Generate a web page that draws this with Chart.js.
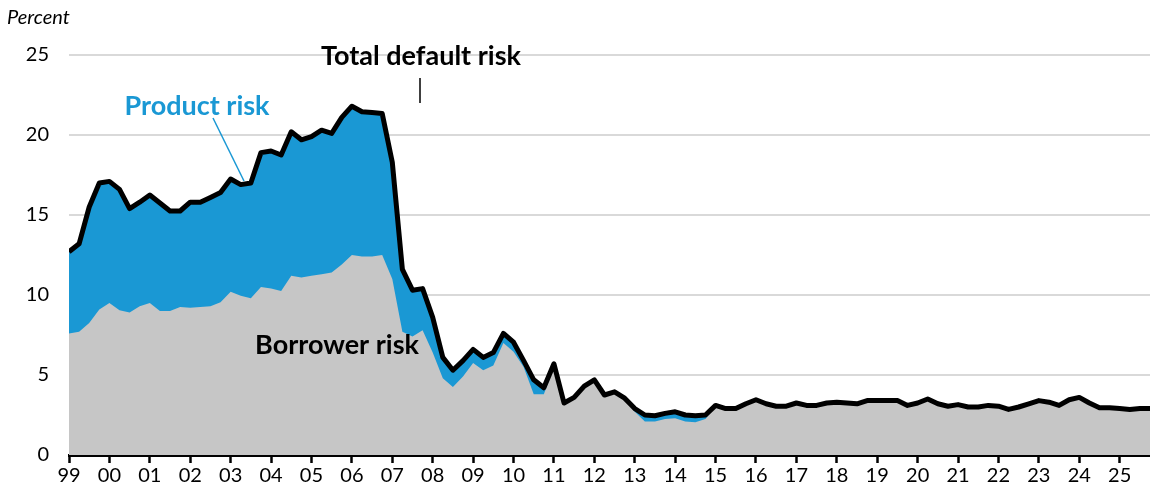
<!DOCTYPE html>
<html>
<head>
<meta charset="utf-8">
<script src="https://cdn.jsdelivr.net/npm/chart.js@4.4.1/dist/chart.umd.min.js"></script>
<style>
    html, body { margin: 0; padding: 0; background: #fff; }
    #wrap { position: relative; width: 1150px; height: 492px; }
</style>
</head>
<body>
<div id="wrap"><canvas id="riskChart"></canvas></div>
<script>
// Quarterly data, 1999 Q1 onwards
const startYear = 1999;
const yearTicks = [1999, 2000, 2001, 2002, 2003, 2004, 2005, 2006, 2007, 2008, 2009, 2010, 2011, 2012,
    2013, 2014, 2015, 2016, 2017, 2018, 2019, 2020, 2021, 2022, 2023, 2024, 2025];

const totalRisk = [
    12.7, 13.2, 15.5, 17.0, 17.1, 16.6, 15.4, 15.8, 16.25, 15.75, 15.25, 15.25,
    15.8, 15.8, 16.1, 16.4, 17.25, 16.9, 17.0, 18.9, 19.0, 18.75, 20.2, 19.7,
    19.9, 20.3, 20.1, 21.1, 21.8, 21.45, 21.4, 21.35, 18.3, 11.6, 10.3, 10.4,
    8.6, 6.1, 5.3, 5.9, 6.6, 6.1, 6.4, 7.6, 7.05, 5.9, 4.7, 4.2,
    5.7, 3.25, 3.6, 4.3, 4.7, 3.75, 3.95, 3.55, 2.9, 2.5, 2.45, 2.6,
    2.7, 2.5, 2.45, 2.5, 3.1, 2.9, 2.9, 3.2, 3.45, 3.2, 3.05, 3.05,
    3.25, 3.1, 3.1, 3.25, 3.3, 3.25, 3.2, 3.4, 3.4, 3.4, 3.4, 3.1,
    3.25, 3.5, 3.2, 3.05, 3.15, 3.0, 3.0, 3.1, 3.05, 2.85, 3.0, 3.2,
    3.4, 3.3, 3.1, 3.45, 3.6, 3.25, 2.95, 2.95, 2.9, 2.85, 2.9, 2.9
];

const borrowerRisk = [
    7.6, 7.7, 8.25, 9.1, 9.5, 9.05, 8.9, 9.3, 9.5, 9.0, 9.0, 9.25,
    9.2, 9.25, 9.3, 9.55, 10.2, 9.95, 9.8, 10.5, 10.4, 10.25, 11.2, 11.1,
    11.2, 11.3, 11.4, 11.9, 12.5, 12.4, 12.4, 12.5, 11.0, 7.7, 7.4, 7.8,
    6.4, 4.8, 4.25, 4.9, 5.75, 5.3, 5.6, 7.0, 6.45, 5.5, 3.8, 3.8,
    5.5, 3.15, 3.5, 4.2, 4.65, 3.65, 3.85, 3.45, 2.7, 2.1, 2.1, 2.25,
    2.3, 2.1, 2.05, 2.25, 3.05, 2.9, 2.9, 3.2, 3.45, 3.2, 3.05, 3.05,
    3.25, 3.1, 3.1, 3.25, 3.3, 3.25, 3.2, 3.4, 3.4, 3.4, 3.4, 3.1,
    3.25, 3.5, 3.2, 3.05, 3.15, 3.0, 3.0, 3.1, 3.05, 2.85, 3.0, 3.2,
    3.4, 3.3, 3.1, 3.45, 3.6, 3.25, 2.95, 2.95, 2.9, 2.85, 2.9, 2.9
];

const yTicks = [0, 5, 10, 15, 20, 25];

const BLUE = '#1a98d4';
const GREY = '#c6c6c6';
const FONT = 'Lato, "Noto Sans", sans-serif';

function toPoints(values) {
    return values.map((v, i) => ({ x: startYear + i / 4, y: v }));
}

// Labels drawn on top of the chart
const labelPlugin = {
    id: 'riskLabels',
    afterDraw(chart) {
        const c = chart.ctx;
        c.save();
        c.textAlign = 'center';
        c.textBaseline = 'middle';

        c.font = 'bold 27px ' + FONT;
        c.fillStyle = '#000';
        c.fillText('Total default risk', 421, 56);
        c.fillText('Borrower risk', 337, 345);

        c.fillStyle = BLUE;
        c.fillText('Product risk', 197, 106);

        // leader lines
        c.lineWidth = 1.5;
        c.strokeStyle = '#000';
        c.beginPath();
        c.moveTo(420, 78);
        c.lineTo(420, 103);
        c.stroke();

        c.strokeStyle = BLUE;
        c.beginPath();
        c.moveTo(213, 118);
        c.lineTo(244, 181);
        c.stroke();

        c.textAlign = 'left';
        c.font = 'italic 20px ' + FONT;
        c.fillStyle = '#000';
        c.fillText('Percent', 7, 18);
        c.restore();
    }
};

const ctx = document.getElementById('riskChart').getContext('2d');
const riskChart = new Chart(ctx, {
    type: 'line',
    data: {
        datasets: [
            {
                label: 'Total default risk',
                data: toPoints(totalRisk),
                borderColor: '#000',
                borderWidth: 5,
                borderJoinStyle: 'round',
                pointRadius: 0,
                fill: false,
                order: 0
            },
            {
                label: 'Borrower risk',
                data: toPoints(borrowerRisk),
                borderWidth: 0,
                borderColor: GREY,
                backgroundColor: GREY,
                pointRadius: 0,
                fill: 'origin',
                order: 1
            },
            {
                label: 'Product risk',
                data: toPoints(totalRisk),
                borderWidth: 0,
                borderColor: BLUE,
                backgroundColor: BLUE,
                pointRadius: 0,
                fill: 'origin',
                order: 2
            }
        ]
    },
    options: {
        responsive: true,
        maintainAspectRatio: false,
        animation: false,
        layout: { padding: { top: 55, right: 0, left: 0, bottom: 0 } },
        plugins: {
            legend: { display: false },
            tooltip: { enabled: false }
        },
        elements: { line: { tension: 0 } },
        scales: {
            x: {
                type: 'linear',
                min: startYear,
                max: startYear + (totalRisk.length - 1) / 4,
                afterBuildTicks: axis => {
                    axis.ticks = yearTicks.map(v => ({ value: v }));
                },
                afterFit: axis => { axis.height = 37; },
                border: { display: true, color: '#000', width: 3 },
                grid: {
                    drawOnChartArea: false,
                    drawTicks: true,
                    tickLength: 8,
                    tickWidth: 2.5,
                    tickColor: '#000'
                },
                ticks: {
                    autoSkip: false,
                    maxRotation: 0,
                    padding: 1,
                    color: '#000',
                    font: { family: FONT, size: 20 },
                    callback: v => String(v % 100).padStart(2, '0')
                }
            },
            y: {
                min: 0,
                max: 25,
                afterBuildTicks: axis => {
                    axis.ticks = yTicks.map(v => ({ value: v }));
                },
                afterFit: axis => { axis.width = 69; },
                border: { display: false },
                grid: {
                    drawTicks: false,
                    lineWidth: 2,
                    color: c => c.tick.value === 0 ? 'rgba(0,0,0,0)' : '#d9d9d9'
                },
                ticks: {
                    padding: 20,
                    color: '#000',
                    font: { family: FONT, size: 20 }
                }
            }
        }
    },
    plugins: [labelPlugin]
});
</script>
</body>
</html>
